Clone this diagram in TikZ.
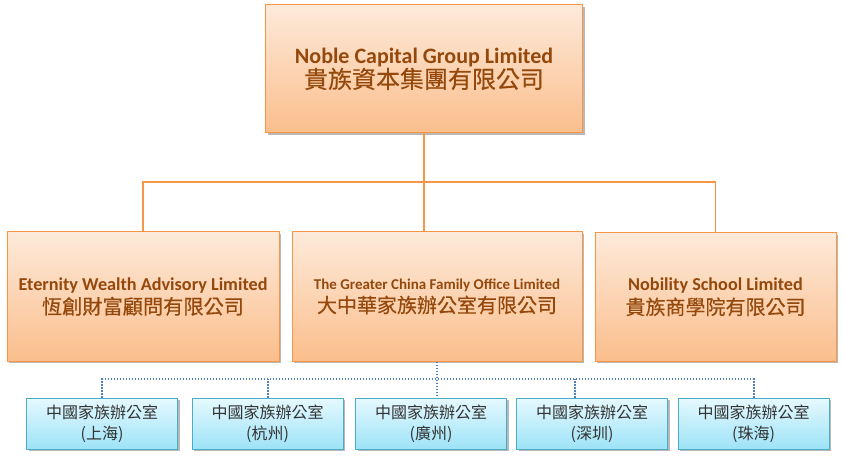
\documentclass[tikz,border=0pt]{standalone}
\usepackage{fontspec}
\setmainfont{Carlito}
\newfontfamily\cjk{Noto Sans CJK TC}
\newfontfamily\cjkmed[FakeBold=0.4]{Noto Sans CJK TC}
\usetikzlibrary{shadows}

\definecolor{orgline}{HTML}{F79646}
\definecolor{orgtext}{HTML}{95480C}
\definecolor{orgtop}{HTML}{FDEADA}
\definecolor{orgbot}{HTML}{FBBE8C}
\definecolor{offline}{HTML}{4BACC6}
\definecolor{offtop}{HTML}{E6F9FF}
\definecolor{offbot}{HTML}{9DE3F7}
\definecolor{dotline}{HTML}{4F81BD}

\tikzset{
    company/.style={draw=orgline, line width=1pt, top color=orgtop, bottom color=orgbot,
        text=orgtext, align=center, inner sep=0pt,
        drop shadow={shadow xshift=2pt, shadow yshift=-2pt, fill=black!35, opacity=.8}},
    office/.style={draw=offline, line width=1pt, top color=offtop, bottom color=offbot,
        text=black!80, align=center, inner sep=0pt, minimum width=151pt, minimum height=51pt,
        font=\cjk\fontsize{16}{21}\selectfont,
        drop shadow={shadow xshift=2pt, shadow yshift=-2pt, fill=black!35, opacity=.8}},
    orgwire/.style={draw=orgline, line width=1.8pt},
    dotwire/.style={draw=dotline, line width=2pt, dash pattern=on 1.6pt off 1.4pt}
}

\begin{document}
\begin{tikzpicture}[x=1pt, y=-1pt]

\useasboundingbox (0,0) rectangle (844,457);

% holding company
\node[company, minimum width=317pt, minimum height=128pt] (top) at (424,69)
    {\bfseries\fontsize{22}{28}\selectfont Noble Capital Group Limited\\
     \cjkmed\fontsize{24}{29}\selectfont 貴族資本集團有限公司};

% subsidiaries
\node[company, minimum width=272pt, minimum height=129pt] (etw) at (143,296.5)
    {\bfseries\fontsize{18.2}{24}\selectfont Eternity Wealth Advisory Limited\\[3pt]
     \cjkmed\fontsize{20.2}{24}\selectfont 恆創財富顧問有限公司};
\node[company, minimum width=290pt, minimum height=129pt] (gcf) at (437,296.5)
    {\bfseries\fontsize{15}{24}\selectfont The Greater China Family Office Limited\\[3pt]
     \cjkmed\fontsize{20}{24}\selectfont 大中華家族辦公室有限公司};
\node[company, minimum width=241pt, minimum height=128pt] (nob) at (715.5,297)
    {\bfseries\fontsize{18.2}{24}\selectfont Nobility School Limited\\[3pt]
     \cjkmed\fontsize{20}{24}\selectfont 貴族商學院有限公司};

% offices
\foreach \n/\x/\city in {1/102/上海, 2/267.5/杭州, 3/431/廣州, 4/592/深圳, 5/753.5/珠海}
    \node[office] (off\n) at (\x,423.5) {中國家族辦公室\\(\city)};

\coordinate (bus) at (424,182);
\draw[orgwire] (top.south) -- (bus);
\draw[orgwire] (etw.north) |- (bus) -| (nob.north);
\draw[orgwire] (bus) -- (bus |- gcf.north);

\coordinate (dbus) at (437,379);
\coordinate (drop4) at ([xshift=-17pt]off4.north);
\draw[dotwire] (gcf.south) -- (gcf.south |- off3.north);
\draw[dotwire] (off1.north) |- (dbus) -| (off5.north);
\draw[dotwire] (off2.north) -- (off2.north |- dbus);
\draw[dotwire] (drop4) -- (drop4 |- dbus);

\end{tikzpicture}
\end{document}
